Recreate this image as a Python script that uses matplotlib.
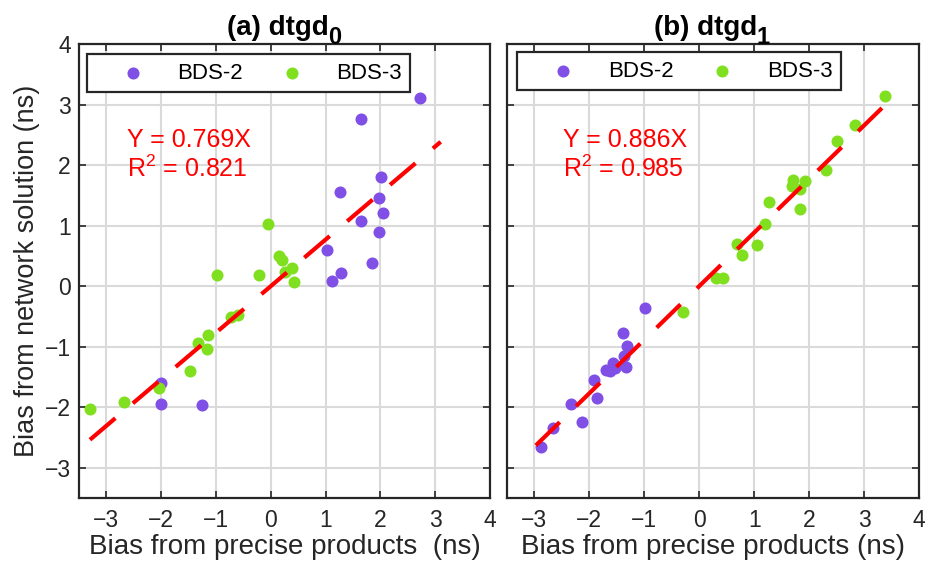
import numpy as np
import matplotlib
matplotlib.use("Agg")
import matplotlib.pyplot as plt

plt.rcParams['font.family'] = ['Liberation Sans', 'DejaVu Sans']
plt.rcParams['mathtext.fontset'] = 'custom'
plt.rcParams['mathtext.rm'] = 'Liberation Sans'
plt.rcParams['mathtext.bf'] = 'Liberation Sans:bold'
plt.rcParams['mathtext.it'] = 'Liberation Sans:italic'

# panel (a) dtgd0
a_bds2_x = [2.73, 1.65, 2.01, 1.27, 1.97, 2.04, 1.64, 1.98, 1.02, 1.84, 1.29, 1.11, -2.01, -2.01, -1.25]
a_bds2_y = [3.11, 2.76, 1.80, 1.55, 1.45, 1.21, 1.08, 0.90, 0.60, 0.38, 0.22, 0.09, -1.60, -1.94, -1.96]
a_bds3_x = [-3.30, -2.68, -2.04, -1.48, -1.32, -1.16, -1.15, -0.73, -0.60, -0.98, -0.21, -0.05, 0.15, 0.21, 0.26, 0.39, 0.42]
a_bds3_y = [-2.03, -1.91, -1.69, -1.40, -0.94, -1.04, -0.80, -0.51, -0.47, 0.18, 0.18, 1.03, 0.50, 0.43, 0.24, 0.30, 0.07]
a_slope = 0.769
a_r2 = 0.821
a_fit_range = [-3.30, 3.10]

# panel (b) dtgd1
b_bds2_x = [-2.88, -2.66, -2.34, -2.14, -1.92, -1.85, -1.69, -1.57, -1.63, -1.54, -1.38, -1.31, -1.36, -1.34, -0.98]
b_bds2_y = [-2.65, -2.34, -1.95, -2.24, -1.55, -1.85, -1.38, -1.27, -1.41, -1.35, -0.78, -0.99, -1.16, -1.33, -0.36]
b_bds3_x = [-0.30, 0.30, 0.43, 0.69, 0.78, 1.05, 1.20, 1.27, 1.70, 1.68, 1.84, 1.92, 1.83, 2.30, 2.51, 2.83, 3.37]
b_bds3_y = [-0.42, 0.14, 0.14, 0.69, 0.51, 0.68, 1.03, 1.39, 1.76, 1.66, 1.61, 1.73, 1.27, 1.92, 2.39, 2.67, 3.14]
b_slope = 0.886
b_r2 = 0.985
b_fit_range = [-2.97, 3.54]

ticks = [-3, -2, -1, 0, 1, 2, 3, 4]

c_bds2 = '#7F4FE6'
c_bds3 = '#80E01F'

fig = plt.figure(figsize=(9.28, 5.79), dpi=100)
ax_a = fig.add_axes([79/928, 1-498/579, 411/928, 454/579])
ax_b = fig.add_axes([506.7/928, 1-498/579, 412.6/928, 454/579])

panels = [
    (ax_a, a_bds2_x, a_bds2_y, a_bds3_x, a_bds3_y, a_slope, a_r2, a_fit_range,
     '(a) dtgd', '0', 'Bias from precise products  (ns)', (-2.63, 2.30), (0.0187, 0.977)),
    (ax_b, b_bds2_x, b_bds2_y, b_bds3_x, b_bds3_y, b_slope, b_r2, b_fit_range,
     '(b) dtgd', '1', 'Bias from precise products (ns)', (-2.48, 2.30), (0.025, 0.982)),
]

for ax, x2, y2, x3, y3, k, r2, rng, title, sub, xlabel, txt_pos, leg_pos in panels:
    ax.set_xlim(-3.5, 4)
    ax.set_ylim(-3.5, 4)
    ax.set_xticks(ticks)
    ax.set_yticks(ticks)
    ax.grid(True, color='#dadada', linewidth=1.5, zorder=0)
    ax.set_axisbelow(True)
    ax.scatter(x2, y2, s=75, color=c_bds2, linewidths=0, label='BDS-2', zorder=2)
    ax.scatter(x3, y3, s=75, color=c_bds3, linewidths=0, label='BDS-3', zorder=3)
    xf = np.array(rng)
    ax.plot(xf, k * xf, color='red', linewidth=3, linestyle=(0, (8, 5.5)), zorder=4)
    ax.text(txt_pos[0], txt_pos[1], f'Y = {k:.3f}X', color='red', fontsize=18, va='baseline')
    ax.text(txt_pos[0], txt_pos[1] - 0.5, f'R$^2$ = {r2:.3f}', color='red', fontsize=18, va='baseline')
    ax.tick_params(direction='in', length=5, width=1.2, top=True, right=True,
                   labelsize=16.5, colors='#262626')
    ax.tick_params(axis='x', pad=8)
    ax.tick_params(axis='y', pad=6)
    for sp in ax.spines.values():
        sp.set_linewidth(1.6)
        sp.set_color('#262626')
    ax.set_xlabel(xlabel, fontsize=20, color='#262626', labelpad=1)
    # title with a full-size, dropped subscript
    ax.annotate(title, xy=(0.608, 1.0), xycoords='axes fraction', xytext=(0, 6.5),
                textcoords='offset points', ha='right', va='baseline',
                fontsize=20, fontweight='bold', color='black')
    ax.annotate(sub, xy=(0.608, 1.0), xycoords='axes fraction', xytext=(-0.5, 0),
                textcoords='offset points', ha='left', va='baseline',
                fontsize=17, fontweight='bold', color='black', annotation_clip=False)
    leg = ax.legend(loc='upper left', bbox_to_anchor=leg_pos, borderaxespad=0, ncol=2,
                    fontsize=16, frameon=True, fancybox=False, edgecolor='#262626',
                    handlelength=3.4, handletextpad=0.3, columnspacing=0.5, borderpad=0.38)
    leg.get_frame().set_linewidth(1.6)
    leg.get_frame().set_alpha(1)

ax_b.tick_params(labelleft=False)
ax_a.set_ylabel('Bias from network solution (ns)', fontsize=19.5, color='#262626', labelpad=3)

fig.savefig('out.png', dpi=100)
